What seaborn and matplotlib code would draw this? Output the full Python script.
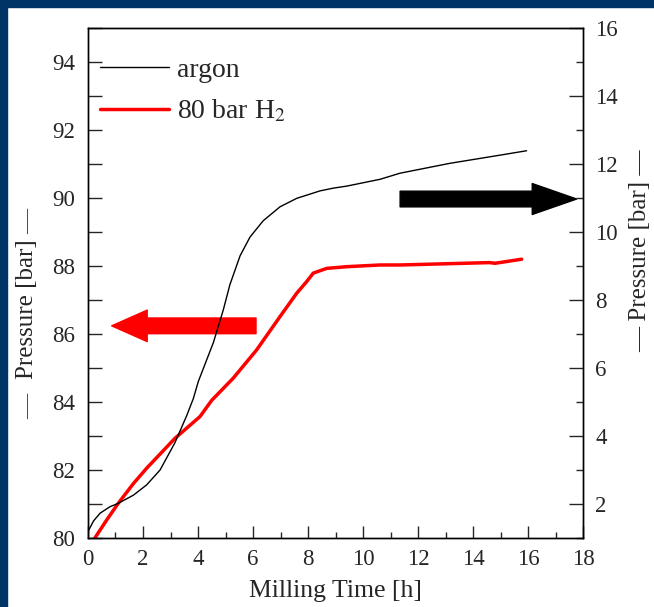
import matplotlib
matplotlib.use("Agg")
import matplotlib.pyplot as plt
import seaborn as sns
import pandas as pd
from matplotlib.patches import Rectangle
from matplotlib.ticker import MultipleLocator

# hydrogen run, left axis
h2_time = [0.25, 0.68, 1.10, 1.65, 2.13, 3.16, 4.07, 4.5, 5.28, 6.13, 6.98, 7.59,
           7.95, 8.19, 8.68, 9.41, 10.62, 11.35, 14.6, 14.8, 15.77]
h2_pressure = [80.0, 80.53, 81.02, 81.6, 82.05, 82.93, 83.57, 84.05, 84.7, 85.53, 86.51, 87.2,
               87.54, 87.79, 87.93, 87.98, 88.03, 88.03, 88.1, 88.08, 88.2]

# argon run, right axis
ar_time = [0.0, 0.2, 0.44, 0.8, 1.1, 1.65, 2.13, 2.62, 3.16, 3.59, 3.83, 4.01, 4.56, 4.92, 5.16,
           5.53, 5.89, 6.37, 6.98, 7.59, 8.44, 8.92, 9.41, 10.62, 11.35, 13.16, 14.98, 15.95]
ar_pressure = [1.19, 1.5, 1.73, 1.92, 2.02, 2.26, 2.56, 3.0, 3.8, 4.6, 5.1, 5.6, 6.75, 7.71, 8.45,
               9.3, 9.85, 10.33, 10.74, 10.99, 11.21, 11.29, 11.35, 11.55, 11.73, 12.02, 12.26, 12.39]

h2 = pd.DataFrame({"time": h2_time, "pressure": h2_pressure})
ar = pd.DataFrame({"time": ar_time, "pressure": ar_pressure})

sns.set_style("ticks")
plt.rcParams['font.family'] = ['Liberation Serif', 'DejaVu Serif']
plt.rcParams['mathtext.fontset'] = 'stix'

fig = plt.figure(figsize=(6.54, 6.07), dpi=100)
fig.patch.set_facecolor('white')
ax = fig.add_axes([88/654, 69/607, 495/654, 510/607])
ax2 = ax.twinx()

sns.lineplot(data=h2, x="time", y="pressure", ax=ax, color='#ff0000', linewidth=2.5,
             label="80 bar H$_2$")
sns.lineplot(data=ar, x="time", y="pressure", ax=ax2, color='black', linewidth=1.0,
             label="argon")
for a in (ax, ax2):
    if a.get_legend():
        a.get_legend().remove()

ax.set_xlim(0, 18)
ax.set_ylim(80, 95)
ax2.set_ylim(1, 16)

ax.xaxis.set_major_locator(MultipleLocator(2))
ax.xaxis.set_minor_locator(MultipleLocator(1))
ax.yaxis.set_major_locator(MultipleLocator(2))
ax.yaxis.set_minor_locator(MultipleLocator(1))
ax2.yaxis.set_major_locator(MultipleLocator(2))
ax2.yaxis.set_minor_locator(MultipleLocator(1))

ax.tick_params(axis='x', which='major', direction='in', length=9, width=1, labelsize=16.5, pad=8,
               top=False)
ax.tick_params(axis='x', which='minor', direction='in', length=4.5, width=1, top=False)
ax.tick_params(axis='y', which='both', direction='in', length=10, width=1, labelsize=16.5, pad=9)
ax2.tick_params(axis='y', which='major', direction='in', length=10, width=1, labelsize=16.5, pad=9)
ax2.tick_params(axis='y', which='minor', direction='in', length=5, width=1)
# small ticks along the top edge
ax2.xaxis.set_minor_locator(MultipleLocator(1))
ax2.tick_params(axis='x', which='both', direction='in', length=4, width=1, top=True, bottom=False,
                labeltop=False, labelbottom=False)
ax2.xaxis.set_ticks_position('top')

for a in (ax, ax2):
    for s in a.spines.values():
        s.set_visible(True)
        s.set_linewidth(1.0)
        s.set_color('black')

ax.set_xlabel("Milling Time [h]", fontsize=18.5, labelpad=7)
ax.set_ylabel("Pressure [bar]", fontsize=18, va='center')
ax.yaxis.set_label_coords(27/654, 1 - 309/607, transform=fig.transFigure)
fig.text(27/654, 1 - 221/607, "—", color='#ff0000', fontsize=18, rotation=90,
         ha='center', va='center')
fig.text(27/654, 1 - 406/607, "—", color='#ff0000', fontsize=18, rotation=90,
         ha='center', va='center')
ax2.set_ylabel("— Pressure [bar] —", fontsize=18, va='center', rotation=90)
ax2.yaxis.set_label_coords(640/654, 1 - 251/607, transform=fig.transFigure)

# arrows pointing at the axes
ax.annotate("", xy=(0.86, 86.24), xytext=(6.11, 86.24),
            arrowprops=dict(arrowstyle="simple,head_length=2.56,head_width=2.27,tail_width=1.13",
                            mutation_scale=10, color='#ff0000', shrinkA=0, shrinkB=0))
ax.annotate("", xy=(17.77, 89.97), xytext=(11.35, 89.97),
            arrowprops=dict(arrowstyle="simple,head_length=3.2,head_width=2.23,tail_width=1.13",
                            mutation_scale=10, color='black', shrinkA=0, shrinkB=0))

h_a = ax2.get_lines()[0]
h_h = ax.get_lines()[0]
ax2.legend([h_a, h_h], ["argon", "80 bar H$_2$"], loc='upper left', frameon=False,
           fontsize=20, handlelength=2.5, handletextpad=0.3, labelspacing=0.55,
           bbox_to_anchor=(-0.01, 0.975), borderaxespad=0.2)

# navy slide border
fig.patches.append(Rectangle((0, 1 - 7/607), 1, 7/607, transform=fig.transFigure,
                             color='#003466', zorder=0))
fig.patches.append(Rectangle((0, 0), 7/654, 1, transform=fig.transFigure,
                             color='#003466', zorder=0))

fig.savefig("out.png", dpi=100)
